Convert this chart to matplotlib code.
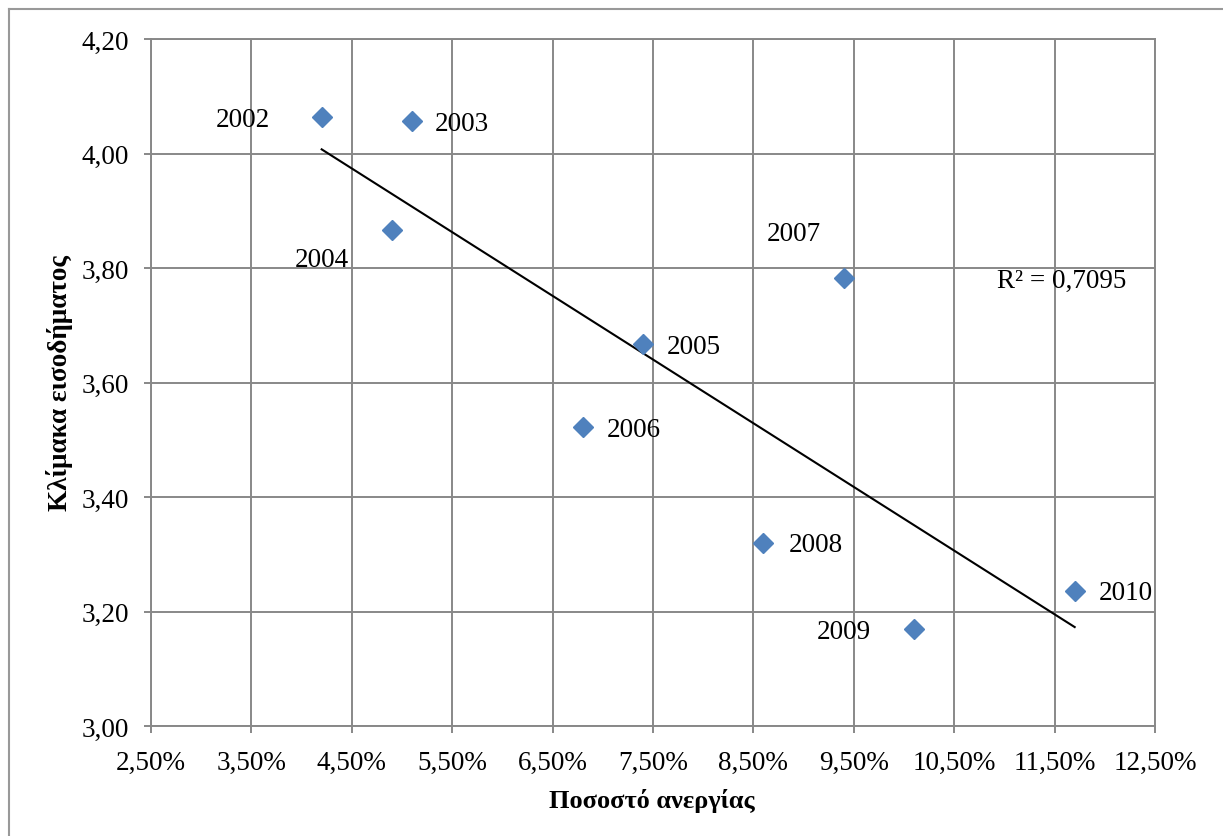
import numpy as np
import matplotlib
matplotlib.use("Agg")
import matplotlib.pyplot as plt
from matplotlib.lines import Line2D
from matplotlib.ticker import FuncFormatter, FixedLocator

# data
years = ['2002', '2003', '2004', '2005', '2006', '2007', '2008', '2009', '2010']
unemployment = [4.2, 5.1, 4.9, 7.4, 6.8, 9.4, 8.6, 10.1, 11.7]   # %
income_scale = [4.063, 4.057, 3.866, 3.667, 3.523, 3.783, 3.320, 3.169, 3.235]
x_ticks = [2.5, 3.5, 4.5, 5.5, 6.5, 7.5, 8.5, 9.5, 10.5, 11.5, 12.5]
y_ticks = [3.0, 3.2, 3.4, 3.6, 3.8, 4.0, 4.2]
r2_text = 'R² = 0,7095'

# label offsets (pixels) per year
label_offsets = [(-79, -2), (50, -3), (-70, -29), (51, -2), (51, -3),
                 (-50, 44), (52, -2), (-70, -2), (51, -1)]

plt.rcParams['font.family'] = ['Liberation Serif', 'DejaVu Serif']

W, H = 1223, 837
fig = plt.figure(figsize=(W / 100, H / 100), dpi=100)
ax = fig.add_axes([151 / W, (H - 727) / H, 1004 / W, 687 / H])

grid_col = '#888888'
ax.set_xlim(2.5, 12.5)
ax.set_ylim(3.0, 4.2)
ax.xaxis.set_major_locator(FixedLocator(x_ticks))
ax.yaxis.set_major_locator(FixedLocator(y_ticks))
ax.xaxis.set_major_formatter(FuncFormatter(lambda v, p: f'{v:.2f}%'.replace('.', ',')))
ax.yaxis.set_major_formatter(FuncFormatter(lambda v, p: f'{v:.2f}'.replace('.', ',')))
ax.grid(True, color=grid_col, lw=1.4)
ax.set_axisbelow(True)
for s in ax.spines.values():
    s.set_color(grid_col)
    s.set_linewidth(1.4)
ax.tick_params(axis='both', direction='out', length=5, width=1.4, color=grid_col,
               labelsize=19.5)
ax.tick_params(axis='x', pad=12)
ax.tick_params(axis='y', pad=11)

# scatter
ax.plot(unemployment, income_scale, linestyle='none', marker='D', markersize=10.5,
        color='#4F81BD', zorder=3)

# linear trendline
x = np.array(unemployment)
y = np.array(income_scale)
k, b = np.polyfit(x, y, 1)
xs = np.array([x.min(), x.max()])
ax.plot(xs, k * xs + b, color='black', lw=1.5, zorder=2)

for yr, xv, yv, off in zip(years, unemployment, income_scale, label_offsets):
    ax.annotate(yr, (xv, yv), xytext=off, textcoords='offset pixels',
                ha='center', va='center', fontsize=19.5)

ax.text(0.907, 0.649, r2_text, transform=ax.transAxes, ha='center', va='center',
        fontsize=19.5)

ax.set_xlabel('Ποσοστό ανεργίας', fontsize=19, fontweight='bold')
ax.set_ylabel('Κλίμακα εισοδήματος', fontsize=19.5, fontweight='bold')
ax.xaxis.set_label_coords((652 - 151) / 1004, (727 - 789) / 687)
ax.yaxis.set_label_coords((73 - 151) / 1004, (727 - 383) / 687)

# chart area border (left and top edges visible)
fig.add_artist(Line2D([9 / W, 9 / W], [0, 1 - 10 / H], transform=fig.transFigure,
                      color='#999999', lw=1.5))
fig.add_artist(Line2D([9 / W, 1], [1 - 10 / H, 1 - 10 / H], transform=fig.transFigure,
                      color='#999999', lw=1.5))

fig.savefig('out.png', dpi=100)
